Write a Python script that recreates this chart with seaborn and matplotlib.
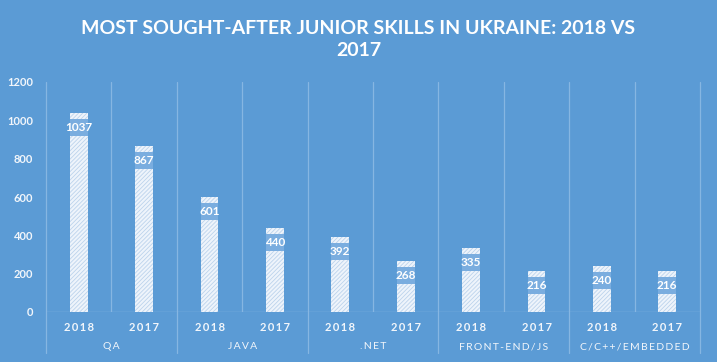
import matplotlib
matplotlib.use("Agg")
import matplotlib.pyplot as plt
import seaborn as sns
import pandas as pd

# data
skills = ["QA", "JAVA", ".NET", "FRONT-END/JS", "C/C++/EMBEDDED"]
years = ["2018", "2017"]
values_2018 = [1037, 601, 392, 335, 240]
values_2017 = [867, 440, 268, 216, 216]

rows = []
for s, a, b in zip(skills, values_2018, values_2017):
    rows.append({"key": s + " 2018", "skill": s, "year": "2018", "count": a})
    rows.append({"key": s + " 2017", "skill": s, "year": "2017", "count": b})
df = pd.DataFrame(rows)

bg = "#5b9bd5"
line_c = "#86b6e2"
txt_c = "#f2f6fb"

sns.set_theme(style="white")
plt.rcParams["font.family"] = ["Lato", "DejaVu Sans"]
plt.rcParams["hatch.linewidth"] = 0.6

fig = plt.figure(figsize=(7.17, 3.62), dpi=100, facecolor=bg)
ax = fig.add_axes([46 / 717, 50 / 362, 654 / 717, 230 / 362])
ax.set_facecolor(bg)

bw = 0.275
sns.barplot(data=df, x="key", y="count", order=df["key"], color="#eef4fb",
            width=bw, ax=ax, saturation=1, linewidth=0, zorder=3)
for p in ax.patches:
    p.set_hatch("////////")
    p.set_edgecolor("#bcd3ec")
    p.set_linewidth(0)

ax.set_ylim(0, 1200)
ax.set_xlim(-0.5, len(df) - 0.5)

# label boxes inside bar tops (pixel offsets -> data units)
unit = 1200 / 230
gap, box_h = 6 * unit, 17 * unit
ax.bar(range(len(df)), [box_h] * len(df), bottom=df["count"] - gap - box_h,
       width=bw, color="#7aaddf", linewidth=0, zorder=4)
for i, v in enumerate(df["count"]):
    ax.text(i, v - gap - box_h / 2, str(v), ha="center", va="center",
            color="white", fontsize=8.5, fontweight="bold", zorder=5)

for s in ax.spines.values():
    s.set_visible(False)
ax.axhline(0, color=line_c, lw=1, zorder=2)
for i in range(len(df) + 1):
    x = i - 0.5
    if i % 2 == 0:
        ax.plot([x, x], [-0.18, 1], color=line_c, lw=0.9,
                transform=ax.get_xaxis_transform(), clip_on=False, zorder=2)
    else:
        ax.axvline(x, color=line_c, lw=0.9, zorder=2)

ax.set_xlabel("")
ax.set_ylabel("")
ax.set_xticks(range(len(df)))
ax.set_xticklabels(["\u2009".join(y) for y in df["year"]], fontsize=8,
                   fontweight="bold", color=txt_c)
ax.set_yticks(range(0, 1201, 200))
ax.set_yticklabels([str(t) for t in range(0, 1201, 200)], fontsize=8,
                   fontweight="bold", color=txt_c)
ax.tick_params(axis="both", length=0)
ax.tick_params(axis="x", pad=7)
ax.tick_params(axis="y", pad=9)

for g, s in enumerate(skills):
    ax.text(2 * g + 0.5, -0.152, "\u2009".join(s), transform=ax.get_xaxis_transform(),
            ha="center", va="center", fontsize=7.5, color=txt_c)

fig.text(0.5, 1 - 28 / 362, "MOST SOUGHT-AFTER JUNIOR SKILLS IN UKRAINE: 2018 VS",
         ha="center", va="center", fontsize=14, fontweight="bold", color="white")
fig.text(0.5, 1 - 51 / 362, "2017", ha="center", va="center", fontsize=14,
         fontweight="bold", color="white")

fig.savefig("out.png", dpi=100, facecolor=bg)
